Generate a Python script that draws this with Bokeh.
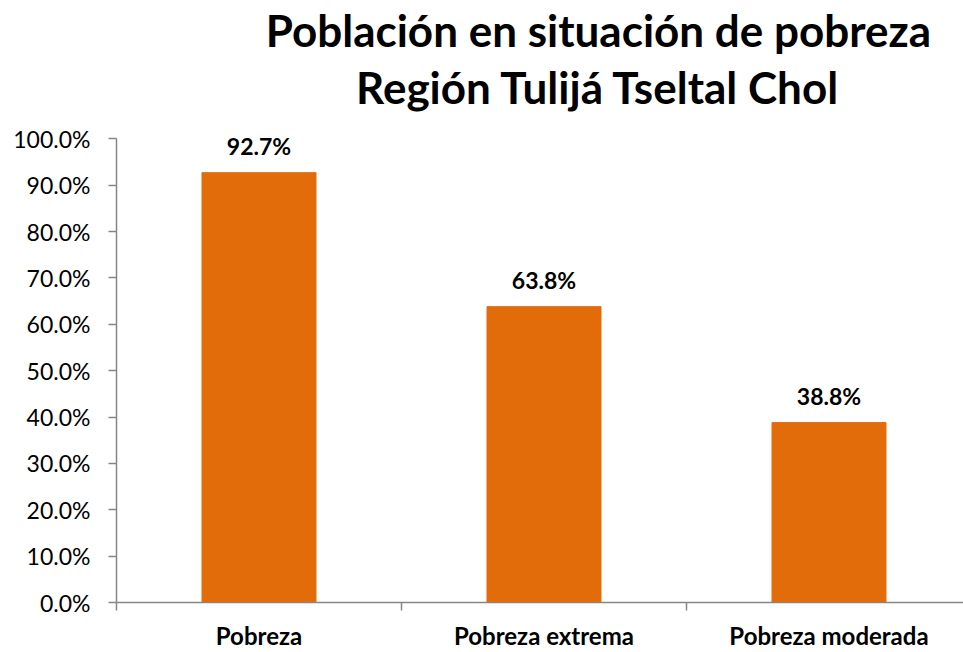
from bokeh.plotting import figure
from bokeh.models import (FixedTicker, NumeralTickFormatter, Range1d,
                          ColumnDataSource, Label)
from bokeh.core.properties import value
from bokeh.embed import file_html
from bokeh.resources import INLINE

# ---- data ----
categories = ["Pobreza", "Pobreza extrema", "Pobreza moderada"]
values = [0.927, 0.638, 0.388]
value_labels = ["92.7%", "63.8%", "38.8%"]
y_ticks = [0.0, 0.1, 0.2, 0.3, 0.4, 0.5, 0.6, 0.7, 0.8, 0.9, 1.0]
title_lines = ["Población en situación de pobreza", "Región Tulijá Tseltal Chol"]

FONT = "Lato"
BAR_COLOR = "#E36C0A"
AXIS_COLOR = "#868686"

centers = [i + 0.5 for i in range(len(categories))]
bounds = [float(i) for i in range(len(categories) + 1)]

src = ColumnDataSource(dict(x=centers, top=values, lab=value_labels))

# frame spans the full height above the x axis so the title can live inside it;
# the y axis itself is bounded to 0..100 %
p = figure(width=963, height=652, output_backend="svg", toolbar_location=None,
           x_range=Range1d(0, 2.972), y_range=Range1d(0, 1.2983),
           min_border_left=116, min_border_right=0, min_border_top=0,
           min_border_bottom=47)
p.title = None
p.outline_line_color = None
p.xgrid.grid_line_color = None
p.ygrid.grid_line_color = None
p.background_fill_color = "white"
p.border_fill_color = "white"

p.vbar(x="x", top="top", width=0.4, source=src, fill_color=BAR_COLOR,
       line_color=BAR_COLOR)

p.text(x="x", y="top", text="lab", source=src, y_offset=-27,
       text_align="center", text_baseline="alphabetic",
       text_font=value(FONT), text_font_style="bold",
       text_font_size="23px", text_color="#000000")

# y axis
ya = p.yaxis[0]
ya.bounds = (0, 1)
ya.ticker = FixedTicker(ticks=y_ticks)
ya.formatter = NumeralTickFormatter(format="0.0%")
ya.axis_line_color = AXIS_COLOR
ya.axis_line_width = 1.5
ya.major_tick_line_color = AXIS_COLOR
ya.major_tick_line_width = 1.5
ya.major_tick_out = 8
ya.major_tick_in = 0
ya.minor_tick_line_color = None
ya.major_label_standoff = 18
ya.major_label_text_font = FONT
ya.major_label_text_font_size = "23px"
ya.major_label_text_color = "#000000"

# x axis
xa = p.xaxis[0]
xa.ticker = FixedTicker(ticks=centers, minor_ticks=bounds)
xa.major_label_overrides = {c: t for c, t in zip(centers, categories)}
xa.axis_line_color = AXIS_COLOR
xa.axis_line_width = 1.5
xa.major_tick_line_color = None
xa.major_tick_out = 0
xa.major_tick_in = 0
xa.minor_tick_line_color = AXIS_COLOR
xa.minor_tick_line_width = 1.5
xa.minor_tick_out = 8
xa.minor_tick_in = 0
xa.major_label_standoff = 10
xa.major_label_text_font = FONT
xa.major_label_text_font_style = "bold"
xa.major_label_text_font_size = "24px"
xa.major_label_text_color = "#000000"

# title (two centered lines)
for line, ybase in zip(title_lines, [1.2339, 1.1116]):
    p.add_layout(Label(x=1.691, y=ybase, text=line, text_align="center",
                       text_baseline="alphabetic", text_font=FONT,
                       text_font_style="bold", text_font_size="44px",
                       text_color="#000000"))

open("out.html", "w").write(file_html(p, INLINE))
